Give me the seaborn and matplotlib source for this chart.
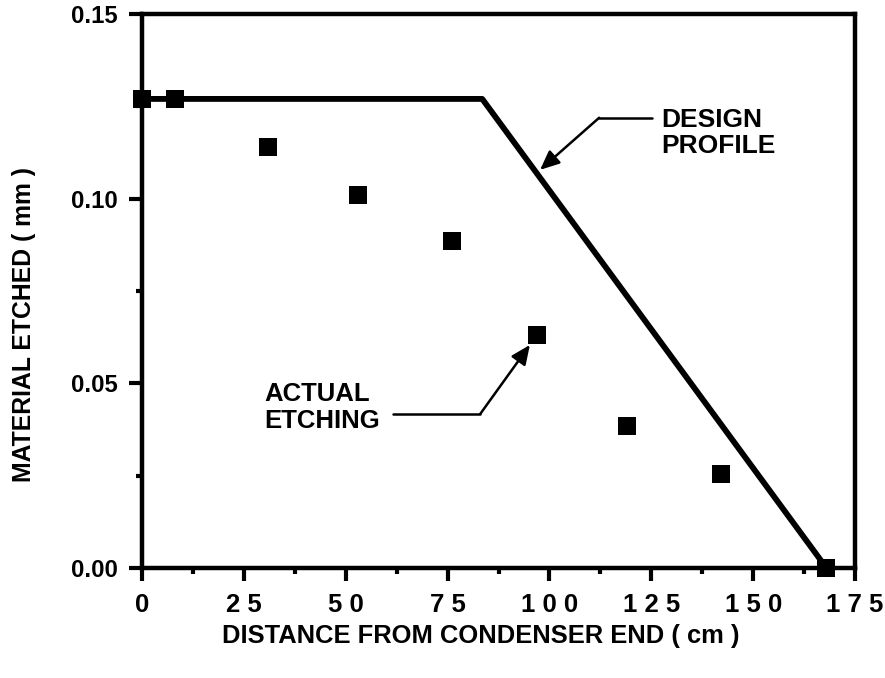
import matplotlib
matplotlib.use("Agg")
import matplotlib.pyplot as plt
import seaborn as sns
import pandas as pd
from matplotlib.ticker import MultipleLocator

# measured points (actual etching)
actual_x = [0, 8, 31, 53, 76, 97, 119, 142, 168]
actual_y = [0.127, 0.127, 0.114, 0.101, 0.0885, 0.063, 0.0385, 0.0255, 0.0]

# design profile: flat then linear drop
design_x = [0, 83.5, 168]
design_y = [0.127, 0.127, 0.0]

xticks = [0, 25, 50, 75, 100, 125, 150, 175]
xtick_labels = ["0", "2 5", "5 0", "7 5", "1 0 0", "1 2 5", "1 5 0", "1 7 5"]
yticks = [0.00, 0.05, 0.10, 0.15]
ytick_labels = ["0.00", "0.05", "0.10", "0.15"]

sns.set_style("ticks")
plt.rcParams['font.family'] = ['Liberation Sans', 'DejaVu Sans']
plt.rcParams['font.weight'] = 'bold'
for key in ['text.color', 'axes.labelcolor', 'xtick.color', 'ytick.color']:
    plt.rcParams[key] = 'black'

actual = pd.DataFrame({'x': actual_x, 'y': actual_y})
design = pd.DataFrame({'x': design_x, 'y': design_y})

fig = plt.figure(figsize=(8.85, 6.78), dpi=100)
ax = fig.add_axes([0.1605, 0.1622, 0.8056, 0.8172])

sns.lineplot(data=design, x='x', y='y', ax=ax, color='black', linewidth=4.2,
             sort=False, zorder=3)
sns.scatterplot(data=actual, x='x', y='y', ax=ax, marker='s', color='black',
                s=12.5 ** 2, linewidth=0, zorder=5, clip_on=False)

ax.set_xlim(0, 175)
ax.set_ylim(0, 0.15)

for sp in ax.spines.values():
    sp.set_linewidth(3.2)
    sp.set_color('black')

ax.set_xticks(xticks)
ax.set_xticklabels(xtick_labels)
ax.set_yticks(yticks)
ax.set_yticklabels(ytick_labels)
ax.xaxis.set_minor_locator(MultipleLocator(12.5))
ax.yaxis.set_minor_locator(MultipleLocator(0.025))

ax.tick_params(axis='x', which='major', direction='out', length=9, width=3,
               pad=9, labelsize=18.5)
ax.tick_params(axis='x', which='minor', direction='out', length=4.5, width=3)
ax.tick_params(axis='y', which='major', direction='out', length=9.5, width=3,
               pad=8, labelsize=17.2)
ax.tick_params(axis='y', which='minor', direction='out', length=4.5, width=3)
for lab in ax.get_xticklabels() + ax.get_yticklabels():
    lab.set_fontweight('bold')

ax.set_xlabel("DISTANCE FROM CONDENSER END ( cm )", fontsize=18.4, fontweight='bold',
              va='center')
ax.xaxis.set_label_coords(0.475, -0.1227)
ax.set_ylabel("MATERIAL ETCHED ( mm )", fontsize=17.8, fontweight='bold', va='center')
ax.yaxis.set_label_coords(-0.1655, 0.439)

arrow_kw = dict(arrowstyle='-|>,head_length=0.9,head_width=0.4', color='black',
                lw=1.8, shrinkA=0, shrinkB=0, mutation_scale=13)

# design profile callout
ax.text(127.5, 0.1246, "DESIGN\nPROFILE", fontsize=19, fontweight='bold',
        ha='left', va='top', linespacing=1.14)
ax.plot([112.2, 125.2], [0.1219, 0.1219], color='black', lw=1.8, zorder=4)
ax.annotate("", xy=(97.7, 0.1078), xytext=(112.2, 0.1219), arrowprops=arrow_kw)

# actual etching callout
ax.text(30.0, 0.0504, "ACTUAL\nETCHING", fontsize=18.5, fontweight='bold',
        ha='left', va='top', linespacing=1.14)
ax.plot([61.6, 83.0], [0.0417, 0.0417], color='black', lw=1.8, zorder=4)
ax.annotate("", xy=(95.2, 0.0604), xytext=(83.0, 0.0417), arrowprops=arrow_kw)

fig.savefig("out.png", dpi=100)
